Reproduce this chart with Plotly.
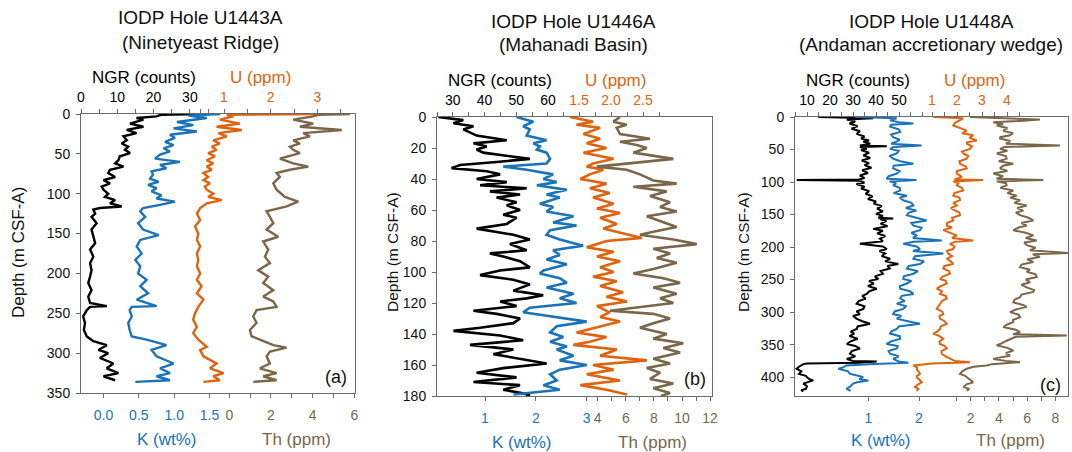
import plotly.graph_objects as go

# ---------------- DATA ----------------
# Panel (a) IODP Hole U1443A
a_ngr_depth = [0, 1, 3, 5, 7, 12, 16, 20, 24, 28, 33, 37, 41, 45, 49, 53, 58, 62, 66, 70, 74, 79, 83, 87, 91, 95, 100, 104, 108, 112, 116, 118, 120, 125, 129, 137, 145, 154, 162, 170, 179, 187, 196, 204, 212, 221, 229, 237, 241, 242, 246, 254, 262, 271, 279, 285, 290, 296, 300, 306, 313, 319, 325, 329, 334]
a_ngr = [32.8, 22.0, 20.8, 15.3, 17.2, 13.5, 17.2, 12.6, 15.3, 11.7, 12.6, 11.2, 13.0, 12.1, 13.5, 10.7, 10.3, 9.4, 11.7, 8.0, 7.5, 9.4, 6.2, 8.0, 5.7, 6.2, 7.5, 6.6, 9.4, 8.0, 11.2, 5.2, 3.4, 3.9, 2.9, 4.3, 2.9, 3.4, 3.9, 2.5, 3.4, 2.5, 2.9, 2.5, 2.0, 2.9, 2.0, 2.5, 7.1, 2.5, 1.6, 0.6, 1.1, 0.8, 1.6, 3.4, 7.1, 4.8, 7.5, 5.2, 8.9, 7.1, 10.3, 6.2, 9.4]

a_k_depth = [0, 2, 5, 10, 14, 18, 22, 26, 30, 35, 39, 43, 47, 51, 56, 60, 64, 68, 72, 76, 81, 85, 89, 93, 97, 102, 106, 110, 114, 118, 122, 129, 137, 145, 152, 158, 166, 175, 183, 191, 200, 208, 216, 225, 233, 241, 242, 246, 254, 262, 271, 279, 283, 290, 296, 304, 313, 319, 325, 329, 334, 336]
a_k = [1.65, 1.20, 1.46, 1.04, 1.27, 0.99, 1.32, 0.94, 1.01, 0.87, 0.99, 0.85, 0.94, 0.80, 0.73, 1.08, 0.80, 0.89, 0.68, 0.70, 0.66, 0.78, 0.63, 0.75, 0.68, 0.82, 0.75, 1.01, 0.80, 0.56, 0.52, 0.59, 0.49, 0.56, 0.78, 0.52, 0.47, 0.54, 0.45, 0.52, 0.49, 0.61, 0.52, 0.63, 0.47, 0.75, 0.40, 0.37, 0.40, 0.35, 0.37, 0.40, 0.61, 0.89, 0.68, 0.75, 0.99, 0.80, 0.94, 0.75, 0.94, 0.45]

a_u_depth = [0, 1, 3, 7, 12, 16, 20, 24, 28, 33, 37, 41, 45, 49, 53, 58, 62, 66, 70, 74, 79, 83, 87, 91, 95, 100, 104, 108, 112, 118, 125, 133, 141, 150, 158, 166, 175, 183, 191, 200, 208, 216, 225, 233, 242, 250, 258, 267, 275, 283, 292, 296, 304, 313, 319, 325, 329, 334, 336]
a_u = [3.02, 1.06, 1.20, 0.91, 1.34, 0.84, 1.38, 0.88, 1.06, 0.77, 0.91, 0.74, 0.84, 0.66, 0.81, 0.63, 0.77, 0.63, 0.74, 0.56, 0.66, 0.56, 0.70, 0.59, 0.63, 0.77, 0.66, 0.95, 0.63, 0.49, 0.42, 0.49, 0.38, 0.45, 0.42, 0.49, 0.42, 0.45, 0.42, 0.49, 0.42, 0.52, 0.42, 0.56, 0.45, 0.38, 0.34, 0.42, 0.34, 0.45, 0.63, 0.49, 0.56, 0.84, 0.70, 0.99, 0.77, 0.91, 0.56]

a_th_depth = [0, 1, 3, 7, 12, 16, 20, 24, 28, 33, 37, 41, 45, 49, 56, 62, 66, 70, 74, 79, 87, 95, 104, 110, 116, 122, 129, 137, 145, 154, 160, 170, 179, 187, 196, 204, 212, 221, 229, 235, 242, 246, 254, 262, 271, 279, 283, 290, 293, 298, 304, 313, 319, 325, 329, 334, 336]
a_th = [5.79, 4.27, 4.03, 3.07, 4.03, 3.39, 5.40, 3.55, 3.87, 3.07, 3.39, 2.91, 3.07, 3.39, 2.43, 3.07, 3.79, 2.91, 2.27, 2.43, 2.11, 2.27, 2.67, 3.31, 2.75, 1.79, 1.95, 2.11, 1.79, 2.35, 1.63, 1.87, 1.71, 1.95, 1.39, 1.87, 1.63, 2.11, 1.63, 2.11, 2.27, 1.31, 1.15, 1.31, 0.99, 1.07, 1.47, 2.11, 2.75, 1.95, 1.79, 1.95, 1.47, 2.27, 1.63, 2.27, 1.15]

# Panel (b) IODP Hole U1446A
b_ngr_depth = [0, 2, 4, 6, 8, 12, 15, 17, 19, 21, 23, 27, 29, 31, 33, 35, 37, 40, 42, 44, 46, 48, 50, 52, 55, 57, 60, 63, 65, 69, 72, 74, 76, 79, 82, 86, 88, 90, 93, 97, 99, 102, 105, 108, 112, 115, 117, 119, 122, 125, 127, 130, 133, 136, 138, 141, 144, 147, 150, 153, 156, 159, 162, 165, 168, 171, 173, 176, 179, 180]
b_ngr = [25.4, 33.3, 30.2, 36.5, 33.3, 37.5, 47.0, 36.5, 40.7, 37.5, 39.6, 54.3, 43.8, 32.3, 29.6, 40.7, 44.9, 37.5, 47.0, 38.6, 53.3, 41.7, 51.2, 43.8, 50.1, 47.0, 51.2, 45.9, 50.1, 47.0, 37.5, 43.8, 49.1, 54.3, 48.0, 53.3, 41.7, 45.9, 51.2, 54.3, 44.9, 38.6, 49.1, 54.3, 49.1, 58.5, 53.3, 44.9, 50.1, 36.5, 43.8, 51.2, 49.1, 38.6, 30.2, 44.9, 52.2, 35.4, 49.1, 42.8, 51.2, 59.6, 45.9, 37.5, 50.1, 36.5, 51.2, 45.9, 54.3, 53.0]

b_k_depth = [0, 3, 6, 8, 12, 15, 17, 19, 21, 23, 27, 30, 32, 34, 37, 40, 42, 44, 47, 50, 52, 56, 58, 61, 64, 68, 70, 73, 76, 79, 83, 86, 89, 92, 95, 99, 101, 104, 107, 110, 114, 117, 120, 123, 126, 129, 132, 135, 139, 142, 145, 148, 150, 154, 157, 160, 163, 166, 170, 173, 176, 179]
b_k = [1.62, 1.95, 1.75, 1.88, 1.82, 2.21, 1.95, 2.08, 2.02, 2.21, 2.28, 2.21, 1.36, 1.82, 2.34, 2.15, 2.41, 2.02, 2.61, 2.21, 2.47, 2.08, 2.34, 2.21, 2.74, 2.34, 2.80, 2.28, 2.21, 2.47, 2.93, 2.34, 2.47, 2.21, 2.61, 2.15, 2.08, 2.47, 2.61, 2.21, 2.74, 2.47, 2.80, 1.88, 1.75, 2.34, 3.00, 2.41, 2.28, 2.54, 2.28, 2.61, 2.41, 2.74, 2.47, 3.00, 2.47, 2.28, 2.41, 2.15, 2.47, 1.56]

b_u_depth = [0, 3, 5, 7, 11, 14, 17, 20, 23, 27, 30, 32, 34, 37, 40, 43, 46, 49, 52, 56, 59, 62, 65, 69, 72, 75, 78, 80, 84, 87, 90, 93, 97, 100, 103, 106, 109, 113, 116, 119, 122, 126, 129, 132, 135, 139, 142, 145, 147, 150, 154, 157, 160, 163, 166, 170, 173, 176, 179]
b_u = [1.36, 1.72, 1.46, 1.83, 1.57, 1.83, 1.62, 1.93, 1.57, 2.04, 1.72, 1.62, 1.88, 1.67, 1.52, 1.93, 1.67, 1.98, 1.72, 2.04, 1.78, 2.14, 1.83, 2.09, 1.88, 2.19, 2.48, 1.93, 1.62, 2.04, 1.78, 2.14, 1.83, 2.04, 1.72, 2.09, 1.83, 2.19, 1.93, 2.25, 1.78, 1.98, 1.83, 2.14, 1.83, 1.46, 1.93, 1.67, 1.41, 2.09, 1.83, 2.56, 1.72, 2.04, 1.62, 2.14, 1.52, 1.93, 2.25]

b_th_depth = [0, 3, 5, 7, 11, 14, 16, 18, 20, 23, 27, 30, 32, 34, 37, 41, 43, 45, 48, 51, 55, 58, 61, 64, 68, 71, 74, 76, 79, 82, 85, 88, 91, 94, 98, 101, 104, 107, 110, 114, 117, 120, 125, 127, 130, 133, 136, 140, 143, 146, 149, 152, 156, 159, 162, 165, 169, 172, 175, 178, 180]
b_th = [5.59, 5.11, 6.06, 5.35, 5.59, 7.72, 5.59, 6.78, 7.49, 6.54, 9.38, 6.06, 3.93, 6.06, 7.01, 7.96, 9.62, 6.54, 8.91, 7.72, 9.15, 8.44, 9.62, 7.49, 8.67, 9.62, 7.96, 7.01, 9.38, 11.05, 7.96, 9.15, 8.20, 9.62, 7.96, 6.54, 8.67, 9.86, 7.96, 9.62, 8.44, 9.38, 4.88, 7.96, 9.15, 7.96, 7.01, 8.91, 7.96, 10.09, 8.67, 9.86, 7.96, 9.15, 7.49, 8.44, 7.72, 9.38, 7.96, 9.15, 8.50]

# Panel (c) IODP Hole U1448A
c_ngr_depth = [0, 1, 2, 4, 7, 10, 14, 18, 22, 26, 30, 33, 36, 38, 41, 44, 45, 46, 49, 51, 55, 59, 63, 67, 71, 74, 78, 82, 86, 90, 94, 96, 97, 98, 101, 103, 107, 110, 114, 118, 122, 126, 130, 133, 137, 141, 145, 149, 152, 155, 156, 157, 160, 164, 168, 172, 175, 179, 183, 187, 191, 195, 199, 203, 206, 210, 214, 218, 222, 226, 229, 233, 237, 241, 245, 249, 252, 256, 260, 264, 268, 272, 275, 279, 283, 287, 291, 295, 299, 303, 306, 310, 314, 318, 322, 326, 330, 333, 337, 341, 345, 349, 352, 356, 360, 364, 368, 372, 375, 376, 378, 379, 380, 384, 387, 391, 395, 398, 400, 403, 405, 408, 410, 414, 418, 420, 422]
c_ngr = [14.9, 24.0, 38.8, 27.3, 31.0, 28.5, 32.0, 29.4, 33.0, 31.6, 35.0, 33.5, 37.0, 34.5, 37.5, 33.0, 44.7, 33.0, 36.0, 33.5, 37.0, 34.5, 37.5, 33.8, 37.0, 35.0, 38.0, 34.0, 36.5, 33.0, 35.0, 32.5, 5.5, 33.0, 35.0, 31.5, 35.0, 33.5, 37.0, 35.5, 38.5, 36.5, 40.0, 39.0, 42.5, 40.5, 43.0, 40.0, 43.0, 41.0, 47.5, 41.7, 44.5, 42.0, 45.0, 38.8, 43.0, 40.5, 44.0, 41.7, 43.0, 33.0, 43.0, 44.7, 41.5, 44.0, 42.5, 46.1, 44.0, 49.7, 45.0, 46.0, 42.0, 43.0, 39.5, 41.0, 37.0, 39.0, 36.5, 40.3, 37.0, 36.0, 34.0, 35.5, 32.5, 31.6, 35.0, 34.5, 31.5, 33.0, 30.0, 31.5, 34.0, 37.4, 32.0, 31.6, 29.0, 30.5, 28.5, 32.0, 29.0, 27.3, 31.0, 33.0, 29.5, 28.7, 31.0, 27.3, 30.0, 40.3, 33.0, 10.0, 8.4, 6.5, 5.5, 7.5, 6.5, 9.5, 9.9, 11.0, 12.7, 10.0, 8.4, 10.0, 9.5, 7.5, 8.4]

c_k_depth = [0, 2, 5, 8, 10, 12, 15, 19, 23, 27, 31, 35, 38, 41, 44, 46, 49, 52, 56, 60, 64, 68, 72, 75, 79, 83, 87, 91, 95, 97, 99, 102, 105, 109, 113, 117, 121, 124, 128, 132, 136, 140, 144, 147, 151, 155, 159, 163, 167, 170, 174, 178, 182, 186, 190, 192, 195, 199, 203, 206, 210, 214, 218, 222, 226, 229, 233, 237, 241, 245, 249, 252, 256, 260, 264, 268, 272, 275, 279, 283, 287, 291, 295, 299, 303, 306, 310, 314, 318, 322, 326, 330, 333, 337, 341, 345, 349, 352, 356, 360, 364, 368, 372, 376, 378, 380, 382, 385, 387, 391, 395, 398, 400, 403, 405, 408, 410, 414, 418, 421]
c_k = [0.74, 1.56, 1.43, 1.60, 1.89, 1.45, 1.43, 1.60, 1.63, 1.45, 1.49, 1.62, 1.56, 1.45, 2.05, 1.50, 1.43, 1.60, 1.56, 1.42, 1.49, 1.63, 1.89, 1.50, 1.49, 1.62, 1.56, 1.40, 1.36, 1.95, 1.42, 1.55, 1.49, 1.62, 1.63, 1.50, 1.76, 1.62, 1.69, 1.85, 1.89, 1.74, 1.95, 1.80, 1.76, 1.98, 2.15, 1.85, 1.89, 2.05, 2.02, 1.85, 1.95, 1.88, 2.45, 1.90, 1.69, 1.95, 2.02, 1.88, 2.48, 1.92, 1.89, 2.10, 2.02, 1.80, 1.76, 1.98, 1.89, 1.70, 1.69, 1.85, 1.76, 1.62, 1.63, 1.82, 1.89, 1.66, 1.63, 1.72, 1.56, 1.75, 1.69, 1.52, 1.49, 1.65, 1.56, 1.78, 2.02, 1.60, 1.56, 1.45, 1.43, 1.62, 1.63, 1.45, 1.36, 1.58, 1.56, 1.40, 1.43, 1.60, 1.49, 1.60, 1.79, 1.00, 0.57, 0.50, 0.41, 0.60, 0.64, 0.80, 0.90, 0.82, 1.00, 0.78, 0.70, 0.65, 0.57, 0.65]

c_u_depth = [0, 2, 5, 9, 13, 17, 21, 25, 28, 32, 36, 39, 41, 45, 49, 53, 56, 60, 64, 68, 72, 76, 79, 83, 87, 92, 96, 97, 99, 102, 105, 109, 113, 117, 121, 124, 128, 132, 136, 140, 144, 147, 151, 155, 159, 163, 167, 170, 174, 178, 182, 186, 190, 192, 195, 199, 203, 206, 210, 214, 218, 222, 226, 229, 233, 237, 241, 245, 249, 252, 256, 260, 264, 268, 272, 275, 279, 283, 287, 291, 295, 299, 303, 306, 310, 314, 318, 322, 326, 330, 333, 337, 341, 345, 349, 352, 356, 360, 364, 368, 372, 375, 377, 379, 382, 385, 387, 391, 395, 398, 400, 404, 408, 411, 415, 418, 421]
c_u = [1.05, 2.25, 2.12, 1.92, 1.85, 2.10, 2.39, 2.20, 2.65, 2.50, 2.79, 2.40, 2.39, 2.60, 2.52, 2.20, 2.25, 2.45, 2.39, 2.10, 2.12, 2.35, 2.39, 2.00, 1.99, 2.20, 1.90, 3.05, 1.85, 2.05, 1.99, 2.20, 2.25, 1.90, 1.85, 2.10, 2.12, 1.85, 1.99, 1.75, 1.92, 2.10, 2.12, 1.80, 1.85, 1.60, 1.59, 1.80, 1.45, 1.70, 1.99, 1.80, 2.65, 1.90, 1.72, 1.90, 1.85, 1.60, 1.65, 1.80, 1.59, 1.75, 1.85, 1.50, 1.45, 1.68, 1.72, 1.45, 1.32, 1.55, 1.59, 1.35, 1.19, 1.40, 1.32, 1.55, 1.59, 1.40, 1.32, 1.25, 1.19, 1.40, 1.45, 1.30, 1.32, 1.50, 1.59, 1.35, 1.32, 1.20, 1.05, 1.30, 1.45, 1.30, 1.32, 1.50, 1.59, 1.38, 1.39, 1.55, 1.72, 1.90, 2.52, 1.00, 0.25, 0.40, 0.39, 0.45, 0.52, 0.40, 0.39, 0.50, 0.59, 0.45, 0.32, 0.45, 0.39]

c_th_depth = [0, 2, 4, 6, 8, 11, 13, 17, 21, 25, 28, 31, 33, 37, 41, 44, 46, 49, 52, 56, 60, 64, 68, 72, 75, 79, 83, 87, 91, 95, 97, 99, 102, 105, 109, 113, 117, 121, 124, 128, 132, 136, 140, 144, 147, 151, 155, 159, 163, 167, 170, 174, 178, 182, 186, 190, 193, 197, 201, 205, 209, 211, 215, 219, 223, 227, 231, 235, 238, 242, 246, 250, 254, 258, 262, 266, 269, 273, 277, 281, 285, 289, 292, 296, 300, 304, 308, 312, 315, 319, 323, 327, 331, 334, 336, 338, 341, 344, 348, 351, 355, 359, 363, 367, 370, 372, 375, 377, 380, 382, 384, 387, 391, 395, 398, 400, 404, 408, 411, 415, 418, 421]
c_th = [1.95, 4.50, 6.91, 5.50, 3.60, 4.30, 3.84, 4.60, 4.31, 5.00, 4.79, 4.10, 4.08, 4.80, 4.50, 8.33, 4.40, 4.08, 4.60, 3.84, 4.50, 4.55, 4.00, 5.02, 4.30, 4.08, 4.60, 3.60, 4.30, 3.84, 7.15, 3.84, 4.50, 4.55, 4.10, 5.02, 4.60, 5.26, 4.80, 5.50, 5.10, 5.97, 5.30, 5.73, 5.20, 5.50, 6.10, 6.44, 5.60, 5.97, 5.40, 5.02, 5.90, 6.44, 5.90, 6.68, 5.80, 5.97, 6.60, 6.20, 8.92, 6.40, 6.91, 6.00, 6.44, 5.60, 5.50, 6.20, 5.97, 6.60, 6.68, 5.90, 6.21, 5.60, 5.97, 6.50, 6.44, 5.60, 5.50, 5.10, 5.02, 5.70, 5.97, 5.20, 4.79, 5.40, 5.50, 5.00, 5.02, 4.60, 4.31, 5.20, 5.50, 5.00, 8.81, 5.20, 4.80, 4.55, 4.20, 3.84, 4.60, 5.02, 4.50, 4.79, 4.00, 3.60, 4.50, 5.50, 3.50, 3.13, 2.20, 1.72, 1.40, 1.24, 1.60, 1.72, 2.00, 2.18, 1.70, 1.48, 1.90, 1.72]

# Titles and tick labels
titles = [("IODP Hole U1443A", "(Ninetyeast Ridge)"),
          ("IODP Hole U1446A", "(Mahanadi Basin)"),
          ("IODP Hole U1448A", "(Andaman accretionary wedge)")]
panel_tags = ["(a)", "(b)", "(c)"]

a_ngr_ticks = [0, 5, 10, 15, 20, 25, 30, 35]
a_ngr_text = ["0", "", "10", "", "20", "", "30", ""]
a_u_ticks = [0.5, 1, 1.5, 2, 2.5, 3, 3.5]
a_u_text = ["", "1", "", "2", "", "3", ""]
a_k_ticks = [0, 0.5, 1.0, 1.5]
a_k_text = ["0.0", "0.5", "1.0", "1.5"]
a_th_ticks = [0, 1, 2, 3, 4, 5, 6]
a_th_text = ["0", "", "2", "", "4", "", "6"]
a_depth_ticks = [0, 50, 100, 150, 200, 250, 300, 350]

b_ngr_ticks = [25, 30, 35, 40, 45, 50, 55, 60]
b_ngr_text = ["", "30", "", "40", "", "50", "", "60"]
b_u_ticks = [1.25, 1.5, 1.75, 2.0, 2.25, 2.5, 2.75]
b_u_text = ["", "1.5", "", "2.0", "", "2.5", ""]
b_k_ticks = [1, 2, 3]
b_k_text = ["1", "2", "3"]
b_th_ticks = [4, 5, 6, 7, 8, 9, 10, 11, 12]
b_th_text = ["4", "", "6", "", "8", "", "10", "", "12"]
b_depth_ticks = [0, 20, 40, 60, 80, 100, 120, 140, 160, 180]

c_ngr_ticks = [5, 10, 15, 20, 25, 30, 35, 40, 45, 50, 55, 60]
c_ngr_text = ["", "10", "", "20", "", "30", "", "40", "", "50", "", ""]
c_u_ticks = [1, 1.5, 2, 2.5, 3, 3.5, 4, 4.5]
c_u_text = ["1", "", "2", "", "3", "", "4", ""]
c_k_ticks = [1, 2]
c_k_text = ["1", "2"]
c_th_ticks = [1, 2, 3, 4, 5, 6, 7, 8]
c_th_text = ["", "2", "", "4", "", "6", "", "8"]
c_depth_ticks = [0, 50, 100, 150, 200, 250, 300, 350, 400]

# ---------------- STYLE / GEOMETRY ----------------
W, H = 1072, 452
FONT = "Liberation Sans, Arial, sans-serif"
C_NGR = "#000000"
C_K = "#1A73B8"
C_U = "#E0620D"
C_TH = "#7A6648"
LINEC = "#6a6a6a"

def px(x):
    return x / W

def py(y):
    return 1 - y / H

panels = [
    dict(L=81, R=355, T=114, B=393, depth=[350, 0], dticks=a_depth_ticks, lw=2.4,
         rngs=dict(ngr=[0, 75.48], u=[-2.062, 3.805], k=[-0.318, 3.557], th=[-7.12, 6.035]),
         ticks=dict(ngr=(a_ngr_ticks, a_ngr_text), u=(a_u_ticks, a_u_text), k=(a_k_ticks, a_k_text), th=(a_th_ticks, a_th_text)),
         data=dict(ngr=(a_ngr_depth, a_ngr), k=(a_k_depth, a_k), u=(a_u_depth, a_u), th=(a_th_depth, a_th)),
         title_x=200, title_y=(18, 42), ngr_lab=(144, 77), u_lab=(260, 77), k_lab=(167, 439), th_lab=(296, 439),
         ylab=(18, 253, 17), tag=(336, 377)),
    dict(L=437, R=711.5, T=117, B=396, depth=[180, 0], dticks=b_depth_ticks, lw=2.6,
         rngs=dict(ngr=[25, 111.6], u=[-0.719, 3.570], k=[0.056, 5.454], th=[-7.44, 12.10]),
         ticks=dict(ngr=(b_ngr_ticks, b_ngr_text), u=(b_u_ticks, b_u_text), k=(b_k_ticks, b_k_text), th=(b_th_ticks, b_th_text)),
         data=dict(ngr=(b_ngr_depth, b_ngr), k=(b_k_depth, b_k), u=(b_u_depth, b_u), th=(b_th_depth, b_th)),
         title_x=573, title_y=(22, 45), ngr_lab=(500, 80), u_lab=(615, 80), k_lab=(522, 442), th_lab=(652, 442),
         ylab=(392, 252, 15.5), tag=(695, 379)),
    dict(L=795, R=1068, T=117, B=396, depth=[429, 0], dticks=c_depth_ticks, lw=2.0,
         rngs=dict(ngr=[4.78, 123.48], u=[-4.48, 6.44], k=[-0.446, 4.939], th=[-10.46, 8.90]),
         ticks=dict(ngr=(c_ngr_ticks, c_ngr_text), u=(c_u_ticks, c_u_text), k=(c_k_ticks, c_k_text), th=(c_th_ticks, c_th_text)),
         data=dict(ngr=(c_ngr_depth, c_ngr), k=(c_k_depth, c_k), u=(c_u_depth, c_u), th=(c_th_depth, c_th)),
         title_x=931, title_y=(22, 45), ngr_lab=(858, 80), u_lab=(974, 80), k_lab=(881, 440), th_lab=(1010, 440),
         ylab=(743, 252, 15.5), tag=(1050, 385)),
]

order = ["ngr", "u", "k", "th"]
colors = dict(ngr=C_NGR, u=C_U, k=C_K, th=C_TH)
sides = dict(ngr="top", u="top", k="bottom", th="bottom")

fig = go.Figure()
layout = dict(width=W, height=H, autosize=False, margin=dict(l=0, r=0, t=0, b=0, pad=0),
              paper_bgcolor="white", plot_bgcolor="white", showlegend=False,
              font=dict(family=FONT, size=14, color="#111"))
annotations = []

for p, P in enumerate(panels):
    yname = "yaxis" if p == 0 else f"yaxis{p + 1}"
    yref = "y" if p == 0 else f"y{p + 1}"
    base = 4 * p + 1
    xrefs = {}
    for i, key in enumerate(order):
        n = base + i
        xname = "xaxis" if n == 1 else f"xaxis{n}"
        xref = "x" if n == 1 else f"x{n}"
        xrefs[key] = xref
        tv, tt = P["ticks"][key]
        ax = dict(domain=[px(P["L"]), px(P["R"])], range=P["rngs"][key], side=sides[key],
                  anchor=yref, tickmode="array", tickvals=tv, ticktext=tt, automargin=False,
                  tickfont=dict(family=FONT, size=14, color=colors[key]),
                  ticks="outside", ticklen=4, tickwidth=1, tickcolor=LINEC,
                  showgrid=False, zeroline=False, fixedrange=True,
                  ticklabelstandoff=(1 if sides[key] == "top" else 5))
        if i == 0:
            ax.update(showline=True, mirror=True, linecolor=LINEC, linewidth=1)
        else:
            ax.update(showline=False, overlaying=xrefs["ngr"])
        layout[xname] = ax
    layout[yname] = dict(domain=[py(P["B"]), py(P["T"])], range=P["depth"], anchor=xrefs["ngr"],
                         tickmode="array", tickvals=P["dticks"], ticks="outside", ticklen=4,
                         tickcolor=LINEC, showgrid=False, zeroline=False, showline=True, mirror=True,
                         linecolor=LINEC, linewidth=1, fixedrange=True, automargin=False,
                         tickfont=dict(family=FONT, size=14, color="#111"), ticklabelstandoff=3)
    for key in ["ngr", "k", "u", "th"]:
        d, v = P["data"][key]
        fig.add_trace(go.Scatter(x=v, y=d, mode="lines", xaxis=xrefs[key], yaxis=yref,
                                 line=dict(color=colors[key], width=P["lw"]), hoverinfo="skip"))
    # titles
    for line, yy in zip(titles[p], P["title_y"]):
        annotations.append(dict(text=line, x=px(P["title_x"]), y=py(yy), xref="paper", yref="paper",
                                showarrow=False, xanchor="center", yanchor="middle",
                                font=dict(family=FONT, size=19, color="#111")))
    for txt, pos, col in [("NGR (counts)", P["ngr_lab"], C_NGR), ("U (ppm)", P["u_lab"], C_U),
                          ("K (wt%)", P["k_lab"], C_K), ("Th (ppm)", P["th_lab"], C_TH)]:
        annotations.append(dict(text=txt, x=px(pos[0]), y=py(pos[1]), xref="paper", yref="paper",
                                showarrow=False, xanchor="center", yanchor="middle",
                                font=dict(family=FONT, size=17, color=col)))
    yx, yy, ys = P["ylab"]
    annotations.append(dict(text="Depth (m CSF-A)", x=px(yx), y=py(yy), xref="paper", yref="paper",
                            showarrow=False, textangle=-90, xanchor="center", yanchor="middle",
                            font=dict(family=FONT, size=ys, color="#111")))
    annotations.append(dict(text=panel_tags[p], x=px(P["tag"][0]), y=py(P["tag"][1]), xref="paper", yref="paper",
                            showarrow=False, xanchor="center", yanchor="middle",
                            font=dict(family=FONT, size=18, color="#111")))

layout["annotations"] = annotations
fig.update_layout(**layout)
fig.write_html("out.html", config={"displayModeBar": False, "staticPlot": True},
               post_script="document.body.style.margin='0px';document.body.style.padding='0px';"
                           "document.body.style.overflow='hidden';")
